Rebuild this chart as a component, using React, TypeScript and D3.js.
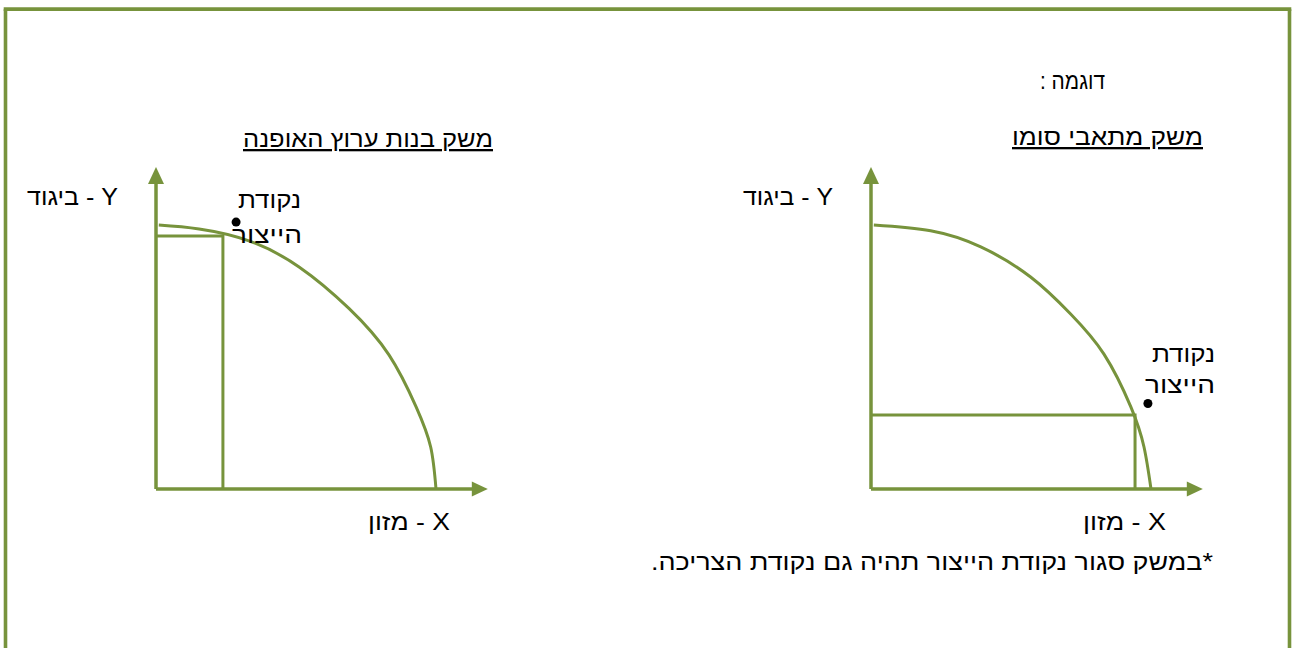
import React from "react";
import * as d3 from "d3";

// ---- data (chart units: x 0..10 = food, y 0..10 = clothing) ----
const leftCurve: [number, number][] = [
  [0.1, 10], [1.54, 9.85], [3.32, 9.4], [5.11, 8.41], [6.89, 6.84],
  [8.32, 5.08], [9.29, 3.11], [9.81, 1.59], [10, 0],
];
const rightCurve: [number, number][] = [
  [0.1, 10], [2.13, 9.78], [3.92, 9.17], [5.7, 8.03], [7.13, 6.63],
  [8.32, 5.11], [9.28, 3.11], [9.75, 1.59], [10, 0],
];
const leftRect = { x: 2.39, y: 9.58 };
const rightRect = { x: 9.43, y: 2.8 };
const leftDot: [number, number] = [2.86, 10.11];
const rightDot: [number, number] = [9.89, 3.24];
const axisExtent = { x: 11.85, y: 12.2 };

const titles = ["משק בנות ערוץ האופנה", "משק מתאבי סומו"];
const yLabel = "Y - ביגוד";
const xLabel = "X - מזון";
const pointLabel = ["נקודת", "הייצור"];
const exampleLabel = "דוגמה :";
const footnote = "*במשק סגור נקודת הייצור תהיה גם נקודת הצריכה.";

const GREEN = "#77933C";
const FONT = "'Liberation Sans', Arial, sans-serif";

type PanelProps = {
  ox: number;
  oy: number;
  curve: [number, number][];
  rect: { x: number; y: number };
  dot: [number, number];
};

function Panel({ ox, oy, curve, rect, dot }: PanelProps) {
  const x = d3.scaleLinear().domain([0, 10]).range([ox, ox + 280]);
  const y = d3.scaleLinear().domain([0, 10]).range([oy, oy - 264]);
  const line = d3
    .line<[number, number]>()
    .x((d) => x(d[0]))
    .y((d) => y(d[1]))
    .curve(d3.curveNatural);
  const xTip = x(axisExtent.x);
  const yTip = y(axisExtent.y);
  return (
    <g>
      {/* axes */}
      <line x1={x(0)} y1={y(0)} x2={x(0)} y2={yTip + 14} stroke={GREEN} strokeWidth={3.5} />
      <path d={`M${x(0)},${yTip} L${x(0) - 8},${yTip + 17} L${x(0) + 8},${yTip + 17} Z`} fill={GREEN} />
      <line x1={x(0)} y1={y(0)} x2={xTip - 14} y2={y(0)} stroke={GREEN} strokeWidth={3.5} />
      <path d={`M${xTip},${y(0)} L${xTip - 16},${y(0) - 7.5} L${xTip - 16},${y(0) + 7.5} Z`} fill={GREEN} />
      {/* rectangle */}
      <polyline
        points={`${x(0)},${y(rect.y)} ${x(rect.x)},${y(rect.y)} ${x(rect.x)},${y(0)}`}
        fill="none"
        stroke={GREEN}
        strokeWidth={3}
      />
      {/* PPF curve */}
      <path d={line(curve) || ""} fill="none" stroke={GREEN} strokeWidth={3} />
      {/* production point */}
      <circle cx={x(dot[0])} cy={y(dot[1])} r={4.5} fill="#000" />
    </g>
  );
}

function RtlText({
  x,
  y,
  w,
  children,
  underline,
}: {
  x: number;
  y: number;
  w: number;
  children: string;
  underline?: boolean;
}) {
  return (
    <text
      x={x}
      y={y}
      direction="rtl"
      textAnchor="start"
      fontFamily={FONT}
      fontSize={23}
      fill="#000"
      textLength={w}
      lengthAdjust="spacingAndGlyphs"
      textDecoration={underline ? "underline" : undefined}
    >
      {children}
    </text>
  );
}

export default function App() {
  return (
    <svg
      width={1292}
      height={648}
      style={{ position: "fixed", left: 0, top: 0, background: "#fff" }}
    >
      <rect x={0} y={0} width={1292} height={648} fill="#fff" />
      {/* frame */}
      <line x1={5.5} y1={9.2} x2={5.5} y2={660} stroke={GREEN} strokeWidth={3.6} />
      <line x1={1289.5} y1={9.2} x2={1289.5} y2={660} stroke={GREEN} strokeWidth={3.6} />
      <line x1={3.7} y1={9.2} x2={1291.3} y2={9.2} stroke={GREEN} strokeWidth={3.8} />

      <RtlText x={1105} y={89} w={65}>{exampleLabel}</RtlText>
      <RtlText x={493} y={147} w={250} underline>{titles[0]}</RtlText>
      <RtlText x={1203} y={145} w={191} underline>{titles[1]}</RtlText>

      <Panel ox={156} oy={489} curve={leftCurve} rect={leftRect} dot={leftDot} />
      <Panel ox={871} oy={489} curve={rightCurve} rect={rightRect} dot={rightDot} />

      {/* left panel labels */}
      <RtlText x={118} y={205} w={91}>{yLabel}</RtlText>
      <RtlText x={450} y={530} w={82}>{xLabel}</RtlText>
      <RtlText x={301} y={208} w={63}>{pointLabel[0]}</RtlText>
      <RtlText x={302} y={243} w={70}>{pointLabel[1]}</RtlText>

      {/* right panel labels */}
      <RtlText x={833} y={205} w={90}>{yLabel}</RtlText>
      <RtlText x={1166} y={530} w={83}>{xLabel}</RtlText>
      <RtlText x={1215} y={362} w={63}>{pointLabel[0]}</RtlText>
      <RtlText x={1215} y={393} w={70}>{pointLabel[1]}</RtlText>

      <RtlText x={1213} y={570} w={562}>{footnote}</RtlText>
    </svg>
  );
}
